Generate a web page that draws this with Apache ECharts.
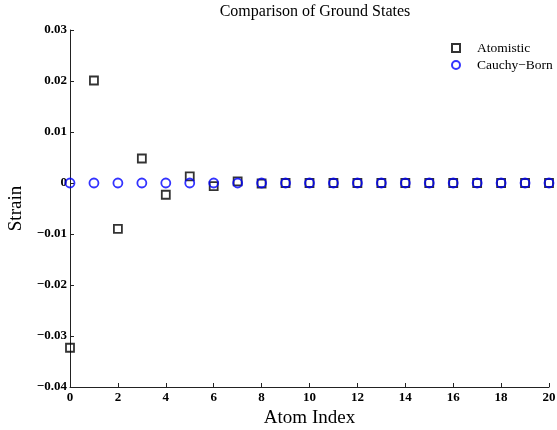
<!DOCTYPE html>
<html>
<head>
<meta charset="utf-8">
<script src="https://cdn.jsdelivr.net/npm/echarts@6/dist/echarts.min.js"></script>
<style>
  html, body { margin: 0; padding: 0; background: #fff; }
  #chart { width: 557px; height: 430px; }
</style>
</head>
<body>
<div id="chart"></div>
<script>
// atom index 0..20
var atomIndex = [0, 1, 2, 3, 4, 5, 6, 7, 8, 9, 10, 11, 12, 13, 14, 15, 16, 17, 18, 19, 20];
var atomistic = [-0.0323, 0.0201, -0.0090, 0.0048, -0.0023, 0.0013, -0.0006, 0.0003, -0.0001,
    0, 0, 0, 0, 0, 0, 0, 0, 0, 0, 0, 0];
var cauchyBorn = [0, 0, 0, 0, 0, 0, 0, 0, 0, 0, 0, 0, 0, 0, 0, 0, 0, 0, 0, 0, 0];

function pairs(xs, ys) {
    var out = [];
    for (var i = 0; i < xs.length; i++) {
        out.push([xs[i], ys[i]]);
    }
    return out;
}

var font = '"Liberation Serif", "DejaVu Serif", serif';

var myChart = echarts.init(document.getElementById('chart'));

var option = {
    backgroundColor: '#fff',
    animation: false,
    title: {
        text: 'Comparison of Ground States',
        left: 310,
        textAlign: 'center',
        top: -1,
        textStyle: { fontFamily: font, fontWeight: 'normal', fontSize: 16, color: '#000' }
    },
    legend: {
        orient: 'vertical',
        left: 446,
        top: 36,
        itemWidth: 8,
        itemHeight: 8,
        itemGap: 3,
        textStyle: { fontFamily: font, fontSize: 13.5, color: '#000', padding: [0, 0, 0, 12] },
        data: ['Atomistic', 'Cauchy\u2212Born']
    },
    grid: { left: 70, right: 8, top: 30, bottom: 43, outerBoundsMode: 'none' },
    xAxis: {
        type: 'value',
        min: 0,
        max: 20,
        interval: 2,
        name: 'Atom Index',
        nameLocation: 'middle',
        nameGap: 19,
        nameTextStyle: { fontFamily: font, fontSize: 19, color: '#000' },
        axisLine: { onZero: false, lineStyle: { color: '#222', width: 1 } },
        axisTick: { inside: true, length: 4, lineStyle: { color: '#222' } },
        axisLabel: { fontFamily: font, fontWeight: 'bold', fontSize: 13, color: '#000', margin: 4 },
        splitLine: { show: false }
    },
    yAxis: {
        type: 'value',
        min: -0.04,
        max: 0.03,
        interval: 0.01,
        name: 'Strain',
        nameLocation: 'middle',
        nameGap: 42,
        nameTextStyle: { fontFamily: font, fontSize: 19, color: '#000' },
        axisLine: { onZero: false, lineStyle: { color: '#222', width: 1 } },
        axisTick: { inside: true, length: 4, lineStyle: { color: '#222' } },
        axisLabel: {
            fontFamily: font, fontWeight: 'bold', fontSize: 13, color: '#000', margin: 3,
            formatter: function (v) {
                var r = Math.round(v * 100) / 100;
                if (r === 0) return '0';
                return (r < 0 ? '\u2212' : '') + Math.abs(r).toFixed(2);
            }
        },
        splitLine: { show: false }
    },
    series: [
        {
            name: 'Atomistic',
            type: 'scatter',
            symbol: 'rect',
            symbolSize: 8,
            itemStyle: { color: 'rgba(0,0,0,0)', borderColor: '#000', borderWidth: 1.8 },
            data: pairs(atomIndex, atomistic)
        },
        {
            name: 'Cauchy\u2212Born',
            type: 'scatter',
            symbol: 'circle',
            symbolSize: 9,
            itemStyle: { color: 'rgba(0,0,0,0)', borderColor: '#0000ff', borderWidth: 1.8 },
            data: pairs(atomIndex, cauchyBorn)
        }
    ]
};

myChart.setOption(option);
</script>
</body>
</html>
